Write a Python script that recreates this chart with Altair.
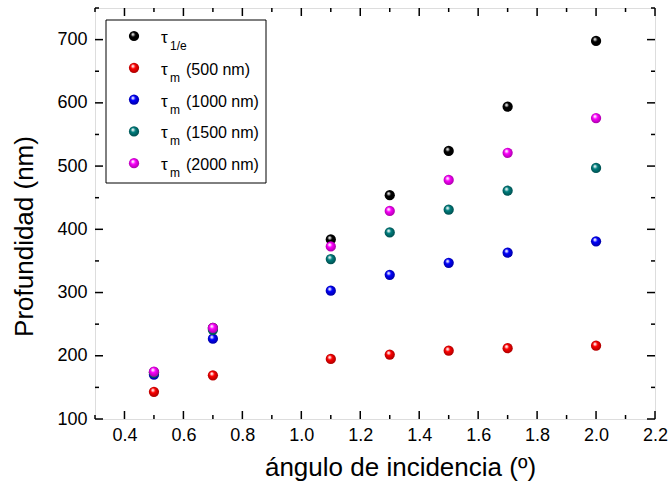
import altair as alt
import pandas as pd

# ---- data ----
angles = [0.5, 0.7, 1.1, 1.3, 1.5, 1.7, 2.0]
tau_1e = [174, 244, 384, 454, 524, 594, 698]
tau_500 = [143, 169, 195, 202, 208, 212, 216]
tau_1000 = [170, 227, 303, 328, 347, 363, 381]
tau_1500 = [173, 241, 353, 395, 431, 461, 497]
tau_2000 = [175, 244, 373, 429, 478, 521, 576]

series_keys = ["t1e", "t500", "t1000", "t1500", "t2000"]
series_values = [tau_1e, tau_500, tau_1000, tau_1500, tau_2000]
legend_subs = ["1/e", "m", "m", "m", "m"]
legend_rest = ["", "(500 nm)", "(1000 nm)", "(1500 nm)", "(2000 nm)"]

x_major = [0.4, 0.6, 0.8, 1.0, 1.2, 1.4, 1.6, 1.8, 2.0, 2.2]
x_minor = [0.3, 0.5, 0.7, 0.9, 1.1, 1.3, 1.5, 1.7, 1.9, 2.1]
y_major = [100, 200, 300, 400, 500, 600, 700]
y_minor = [150, 250, 350, 450, 550, 650, 750]

# ---- styles ----
base_colors = ["#000000", "#ff0000", "#0000ff", "#008080", "#ff00ff"]
light_colors = ["#bbbbbb", "#ffcccc", "#ccccff", "#bfe0e0", "#ffccff"]
dark_colors = ["#000000", "#a00000", "#00009a", "#004848", "#a000a0"]

W, H = 560, 411
FONT = "Liberation Sans"

xscale = alt.Scale(domain=[0.3, 2.2], nice=False, zero=False)
yscale = alt.Scale(domain=[100, 750], nice=False, zero=False)


def grad(i):
    return alt.RadialGradient(
        gradient="radial",
        x1=0.36, y1=0.3, r1=0.0,
        x2=0.5, y2=0.5, r2=0.55,
        stops=[
            alt.GradientStop(offset=0.0, color="#ffffff"),
            alt.GradientStop(offset=0.18, color=light_colors[i]),
            alt.GradientStop(offset=0.4, color=base_colors[i]),
            alt.GradientStop(offset=1.0, color=dark_colors[i]),
        ],
    )


layers = []

# axes carrier (labels + titles only)
axes_df = pd.DataFrame({"x": angles, "y": tau_1e})
axes = alt.Chart(axes_df).mark_point(opacity=0).encode(
    x=alt.X("x:Q", scale=xscale,
            axis=alt.Axis(values=x_major, format=".1f", ticks=False, domain=False, grid=False,
                          labelFontSize=18, labelFont=FONT, labelColor="black", labelPadding=7,
                          labelFlush=False, labelOverlap=False,
                          title="ángulo de incidencia (º)", titleFont=FONT, titleFontSize=26,
                          titleFontWeight="normal", titleColor="black", titlePadding=10,
                          titleX=305, titleAnchor="middle")),
    y=alt.Y("y:Q", scale=yscale,
            axis=alt.Axis(values=y_major, format="d", ticks=False, domain=False, grid=False,
                          labelFontSize=18, labelFont=FONT, labelColor="black", labelPadding=8,
                          labelFlush=False, labelOverlap=False,
                          title="Profundidad (nm)", titleFont=FONT, titleFontSize=26,
                          titleFontWeight="normal", titleColor="black",
                          titleAngle=270, titleX=-71, titleY=228, titleAlign="center",
                          titleBaseline="middle")),
)
layers.append(axes)

# inward ticks on all four sides
xmaj = pd.DataFrame({"v": x_major})
xmin = pd.DataFrame({"v": x_minor})
ymaj = pd.DataFrame({"v": y_major})
ymin = pd.DataFrame({"v": y_minor})
for df, L in [(xmaj, 8), (xmin, 4)]:
    layers.append(alt.Chart(df).mark_rule(color="black", strokeWidth=1.5).encode(
        x=alt.X("v:Q", scale=xscale), y=alt.value(H), y2=alt.value(H - L)))
    layers.append(alt.Chart(df).mark_rule(color="black", strokeWidth=1.5).encode(
        x=alt.X("v:Q", scale=xscale), y=alt.value(0), y2=alt.value(L)))
for df, L in [(ymaj, 8), (ymin, 4)]:
    layers.append(alt.Chart(df).mark_rule(color="black", strokeWidth=1.5).encode(
        y=alt.Y("v:Q", scale=yscale), x=alt.value(0), x2=alt.value(L)))
    layers.append(alt.Chart(df).mark_rule(color="black", strokeWidth=1.5).encode(
        y=alt.Y("v:Q", scale=yscale), x=alt.value(W), x2=alt.value(W - L)))

# data points (shaded balls)
for i, (key, vals) in enumerate(zip(series_keys, series_values)):
    df = pd.DataFrame({"x": angles, "y": vals})
    layers.append(alt.Chart(df).mark_circle(size=105, opacity=1, fill=grad(i)).encode(
        x=alt.X("x:Q", scale=xscale), y=alt.Y("y:Q", scale=yscale)))

# legend (drawn manually)
leg_df = pd.DataFrame({"k": ["box"]})
layers.append(alt.Chart(leg_df).mark_rect(fill="white", stroke="black", strokeWidth=1).encode(
    x=alt.value(11), x2=alt.value(171), y=alt.value(12), y2=alt.value(175)))
row0, step = 28, 31.8
for i in range(len(series_keys)):
    yy = row0 + i * step
    d = pd.DataFrame({"sub": [legend_subs[i]], "rest": [legend_rest[i]], "t": ["τ"]})
    layers.append(alt.Chart(d).mark_circle(size=105, opacity=1, fill=grad(i)).encode(
        x=alt.value(39), y=alt.value(yy)))
    layers.append(alt.Chart(d).mark_text(font=FONT, fontSize=17, align="left", baseline="middle",
                                         color="black").encode(
        x=alt.value(66), y=alt.value(yy + 2), text="t:N"))
    layers.append(alt.Chart(d).mark_text(font=FONT, fontSize=12, align="left", baseline="middle",
                                         color="black").encode(
        x=alt.value(75), y=alt.value(yy + 10), text="sub:N"))
    if legend_rest[i]:
        layers.append(alt.Chart(d).mark_text(font=FONT, fontSize=16, align="left",
                                             baseline="middle", color="black").encode(
            x=alt.value(91), y=alt.value(yy + 2), text="rest:N"))

chart = alt.layer(*layers).properties(
    width=W, height=H,
    autosize=alt.AutoSizeParams(type="none"),
    padding={"left": 95, "top": 8, "right": 15, "bottom": 74},
).configure_view(stroke="black", strokeWidth=1.5).configure(background="white")

chart.save("out.html", embed_options={"renderer": "svg", "actions": False})
